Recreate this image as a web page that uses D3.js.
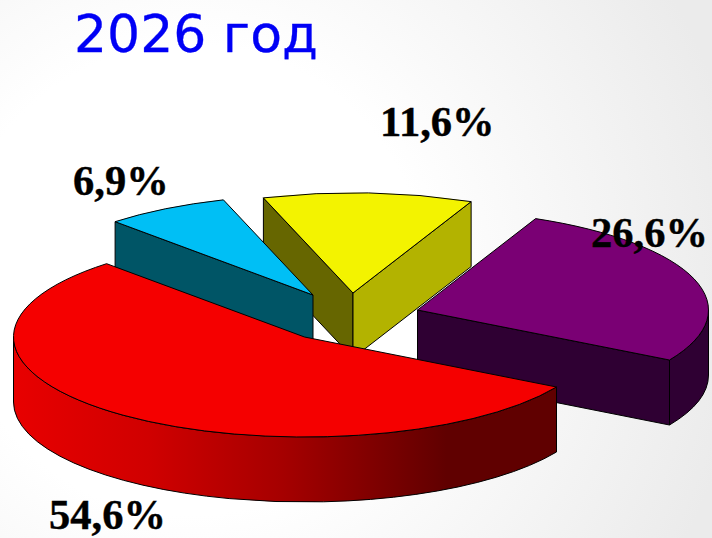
<!DOCTYPE html>
<html lang="ru">
  <head>
    <meta charset="utf-8" />
    <title>2026 год</title>
    <script src="https://d3js.org/d3.v7.min.js"></script>
    <style type="text/css">
      html, body { margin: 0; padding: 0; background: #fff; }
      svg { display: block; }
    </style>
  </head>
  <body>
    <script type="text/javascript">
      // Data
      const chartTitle = '2026 год';
      const sliceNames = ['a', 'b', 'c', 'd'];
      const sliceValues = [54.6, 6.9, 11.6, 26.6];

      // Layout
      const w = 712;
      const h = 538;
      const rx = 291;
      const ry = 100;
      const depth = 65;
      const startDeg = 120;
      const apex = { a: [304.5, 337], b: [313, 295], c: [353, 293], d: [417.5, 310] };
      const labelPos = { a: [49, 528.8], b: [73, 195], c: [380, 136], d: [591, 247] };
      const drawOrder = ['c', 'b', 'd', 'a'];

      // Colours
      const topColour = { a: '#f50000', b: '#00bff5', c: '#f3f300', d: '#7a0074' };
      const startFace = { b: '#005566', c: '#666600' };
      const endFace = { c: '#b3b300', d: '#2f0033' };
      const rimColour = { a: 'url(#redRim)', d: '#2f0033' };

      const xScale = d3.scaleLinear().domain([-1, 1]).range([-rx, rx]);
      const yScale = d3.scaleLinear().domain([-1, 1]).range([-ry, ry]);

      const svg = d3
        .select('body')
        .append('svg')
        .attr('width', w)
        .attr('height', h);

      const defs = svg.append('defs');

      // Slide background, white fading to grey on the right
      const bg = defs
        .append('radialGradient')
        .attr('id', 'bg')
        .attr('gradientUnits', 'userSpaceOnUse')
        .attr('cx', 190)
        .attr('cy', 280)
        .attr('r', 560);
      bg.append('stop').attr('offset', 0.42).attr('stop-color', '#ffffff');
      bg.append('stop').attr('offset', 1).attr('stop-color', '#ebebeb');

      const redRim = defs
        .append('linearGradient')
        .attr('id', 'redRim')
        .attr('gradientUnits', 'userSpaceOnUse')
        .attr('x1', 13)
        .attr('x2', 555)
        .attr('y1', 0)
        .attr('y2', 0);
      [
        [0, '#e80000'],
        [0.25, '#d00000'],
        [0.5, '#a50000'],
        [0.8, '#600000'],
        [1, '#600000'],
      ].forEach(s =>
        redRim.append('stop').attr('offset', s[0]).attr('stop-color', s[1])
      );

      svg
        .append('rect')
        .attr('width', w)
        .attr('height', h)
        .attr('fill', 'url(#bg)');

      const pie = d3
        .pie()
        .sort(null)
        .startAngle((startDeg * Math.PI) / 180)
        .endAngle((startDeg * Math.PI) / 180 + 2 * Math.PI);

      const slices = pie(sliceValues).map((d, i) => ({
        name: sliceNames[i],
        start: d.startAngle,
        end: d.endAngle,
      }));

      const point = (name, a, dy = 0) => [
        apex[name][0] + xScale(Math.sin(a)),
        apex[name][1] - yScale(Math.cos(a)) + dy,
      ];

      const arcTo = (p, a0, a1) => {
        const large = Math.abs(a1 - a0) > Math.PI ? 1 : 0;
        const sweep = a1 > a0 ? 1 : 0;
        return `A${rx},${ry} 0 ${large} ${sweep} ${p[0]},${p[1]}`;
      };

      // Cut face from the centre to the rim, extruded downwards
      const cutFace = (name, a) => {
        const c = apex[name];
        const p = point(name, a);
        return `M${c}L${p}L${p[0]},${p[1] + depth}L${c[0]},${c[1] + depth}Z`;
      };

      const styleFace = sel =>
        sel
          .attr('stroke', '#000')
          .attr('stroke-width', 1)
          .attr('stroke-linejoin', 'round');

      const groups = svg
        .selectAll('g.slice')
        .data(drawOrder.map(n => slices.find(s => s.name === n)))
        .enter()
        .append('g')
        .attr('class', 'slice');

      groups.each(function(d) {
        const g = d3.select(this);

        // Front rim, only the part between 90 and 270 degrees shows.
        // Angles run past 360 after the wrap, so try both turns
        [0, 2 * Math.PI].forEach(turn => {
          const a0 = Math.max(d.start, Math.PI / 2 + turn);
          const a1 = Math.min(d.end, (3 * Math.PI) / 2 + turn);
          if (a1 > a0 && rimColour[d.name]) {
            const p0 = point(d.name, a0);
            const p1 = point(d.name, a1);
            const p1b = point(d.name, a1, depth);
            const p0b = point(d.name, a0, depth);
            g.append('path')
              .attr(
                'd',
                `M${p0}${arcTo(p1, a0, a1)}L${p1b}${arcTo(p0b, a1, a0)}Z`
              )
              .attr('fill', rimColour[d.name])
              .call(styleFace);
          }
        });

        if (startFace[d.name]) {
          g.append('path')
            .attr('d', cutFace(d.name, d.start))
            .attr('fill', startFace[d.name])
            .call(styleFace);
        }
        if (endFace[d.name]) {
          g.append('path')
            .attr('d', cutFace(d.name, d.end))
            .attr('fill', endFace[d.name])
            .call(styleFace);
        }

        // Top face
        const pa = point(d.name, d.start);
        const pb = point(d.name, d.end);
        g.append('path')
          .attr('d', `M${apex[d.name]}L${pa}${arcTo(pb, d.start, d.end)}Z`)
          .attr('fill', topColour[d.name])
          .call(styleFace);
      });

      // Percent labels
      svg
        .selectAll('text.label')
        .data(slices)
        .enter()
        .append('text')
        .attr('class', 'label')
        .attr('x', d => labelPos[d.name][0])
        .attr('y', d => labelPos[d.name][1])
        .attr('font-family', '"Liberation Serif", serif')
        .attr('font-weight', 'bold')
        .attr('font-size', 42.5)
        .attr('fill', '#000')
        .attr('stroke', '#000')
        .attr('stroke-width', 0.4)
        .text((d, i) => `${sliceValues[i].toFixed(1).replace('.', ',')}%`);

      svg
        .append('text')
        .attr('x', 74)
        .attr('y', 52)
        .attr('font-family', '"DejaVu Sans", sans-serif')
        .attr('font-size', 52)
        .attr('fill', '#0000f5')
        .attr('stroke', '#0000f5')
        .attr('stroke-width', 0.3)
        .text(chartTitle);
    </script>
  </body>
</html>
